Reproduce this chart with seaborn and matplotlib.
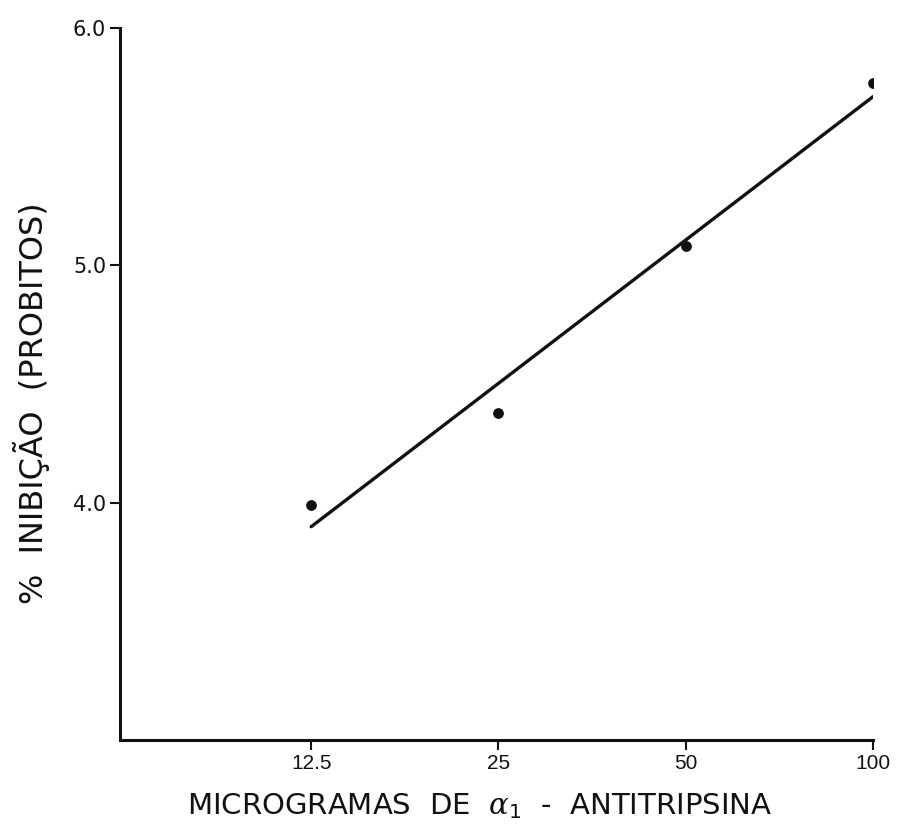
import matplotlib
matplotlib.use("Agg")
from matplotlib import pyplot as plt
from matplotlib.ticker import NullLocator
import pandas as pd
import seaborn as sns

# dados (dose em microgramas, inibicao em probitos)
doses = [12.5, 25, 50, 100]
probitos = [3.99, 4.38, 5.08, 5.77]
x_ticks = [12.5, 25, 50, 100]
x_tick_labels = ["12.5", "25", "50", "100"]
y_ticks = [4.0, 5.0, 6.0]
y_tick_labels = ["4.0", "5.0", "6.0"]

df = pd.DataFrame({"dose": doses, "probito": probitos})

sns.set_style("ticks")
plt.rcParams["font.family"] = ["DejaVu Sans"]
plt.rcParams["mathtext.fontset"] = "custom"
plt.rcParams["mathtext.it"] = "DejaVu Serif:italic"

fig = plt.figure(figsize=(8.99, 8.33), dpi=100)
ax = fig.add_axes([0.1335, 0.1116, 0.8376, 0.8547])
ax.set_xscale("log")

sns.regplot(data=df, x="dose", y="probito", logx=True, ci=None, ax=ax,
            color="#111111",
            scatter_kws={"s": 60, "alpha": 1, "linewidths": 0},
            line_kws={"linewidth": 2.4})

ax.set_xlim(6.16, 100)
ax.set_ylim(3.0, 6.0)
ax.set_xticks(x_ticks)
ax.set_xticklabels(x_tick_labels, fontsize=15, family="Liberation Sans")
ax.xaxis.set_minor_locator(NullLocator())
ax.set_yticks(y_ticks)
ax.set_yticklabels(y_tick_labels, fontsize=15)

for side in ["top", "right"]:
    ax.spines[side].set_visible(False)
for side in ["left", "bottom"]:
    ax.spines[side].set_linewidth(2.2)
    ax.spines[side].set_color("#111111")
ax.tick_params(axis="both", direction="out", length=7, width=1.5,
               color="#111111", labelcolor="#111111")
ax.tick_params(axis="x", pad=3)
ax.tick_params(axis="y", pad=3)

ax.set_xlabel(r"MICROGRAMAS  DE  $\alpha_1$  -  ANTITRIPSINA", fontsize=21,
              color="#111111")
ax.set_ylabel("%  INIBIÇÃO  (PROBITOS)", fontsize=23, color="#111111")
ax.xaxis.set_label_coords(0.478, -0.072)
ax.yaxis.set_label_coords(-0.093, 0.473)

fig.savefig("out.png", dpi=100)
